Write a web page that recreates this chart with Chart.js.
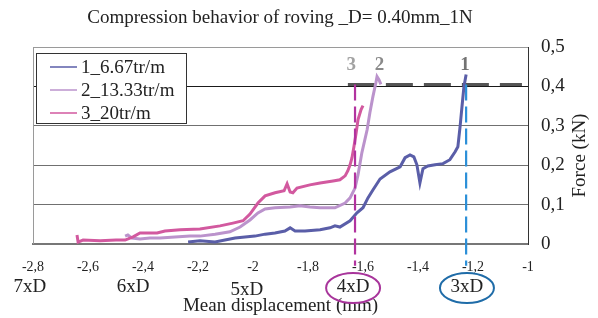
<!DOCTYPE html>
<html><head><meta charset="utf-8">
<script src="https://cdn.jsdelivr.net/npm/chart.js@4.4.1/dist/chart.umd.min.js"></script>
<style>html,body{margin:0;padding:0;background:#fff;}#wrap{width:598px;height:318px;}</style>
</head><body><div id="wrap"><canvas id="c" width="598" height="318"></canvas></div>
<script>
// ---------- data ----------
const seriesNames = ['1_6.67tr/m', '2_13.33tr/m', '3_20tr/m'];

const s1X = [-2.236,-2.193,-2.138,-2.102,-2.065,-2.029,-1.993,-1.956,-1.920,-1.884,-1.865,-1.847,-1.811,-1.756,-1.720,-1.702,-1.684,-1.647,-1.622,-1.600,-1.582,-1.564,-1.538,-1.502,-1.465,-1.447,-1.429,-1.415,-1.404,-1.393,-1.382,-1.364,-1.338,-1.309,-1.284,-1.265,-1.255,-1.247,-1.240,-1.233,-1.225];
const s1Y = [0.005,0.008,0.005,0.010,0.015,0.018,0.020,0.025,0.028,0.033,0.041,0.033,0.033,0.036,0.041,0.046,0.043,0.059,0.079,0.092,0.117,0.137,0.165,0.183,0.196,0.219,0.226,0.221,0.201,0.155,0.191,0.198,0.201,0.204,0.214,0.234,0.247,0.298,0.349,0.399,0.430];

const s2X = [-2.465,-2.455,-2.440,-2.411,-2.375,-2.338,-2.284,-2.229,-2.193,-2.138,-2.084,-2.047,-2.011,-1.982,-1.956,-1.920,-1.865,-1.829,-1.793,-1.756,-1.702,-1.665,-1.647,-1.629,-1.618,-1.604,-1.585,-1.575,-1.564,-1.553,-1.549,-1.542,-1.535];
const s2Y = [0.020,0.023,0.015,0.013,0.015,0.015,0.018,0.020,0.020,0.025,0.031,0.043,0.061,0.079,0.089,0.092,0.094,0.097,0.094,0.092,0.092,0.104,0.117,0.142,0.176,0.232,0.290,0.333,0.374,0.410,0.425,0.417,0.405];

const s3X = [-2.640,-2.636,-2.618,-2.556,-2.498,-2.465,-2.436,-2.411,-2.375,-2.349,-2.320,-2.265,-2.193,-2.120,-2.073,-2.036,-2.011,-1.982,-1.956,-1.920,-1.887,-1.876,-1.865,-1.855,-1.840,-1.793,-1.756,-1.709,-1.684,-1.665,-1.655,-1.647,-1.640,-1.633,-1.625,-1.618,-1.607,-1.600];
const s3Y = [0.023,0.005,0.010,0.008,0.010,0.010,0.018,0.028,0.028,0.028,0.033,0.036,0.038,0.046,0.053,0.059,0.076,0.104,0.122,0.130,0.135,0.153,0.132,0.130,0.142,0.150,0.155,0.160,0.163,0.173,0.186,0.201,0.219,0.247,0.282,0.316,0.341,0.351];

const xTicks = [-2.8,-2.6,-2.4,-2.2,-2.0,-1.8,-1.6,-1.4,-1.2,-1.0];
const yTicks = [0,0.1,0.2,0.3,0.4,0.5];

const refLevel = 0.405;            // dashed maximum force level
const refLineX = [-1.655, -1.022];  // extent of the dashed level
const vLine3X = -1.629;             // vertical marker for series 3
const vLine1X = -1.225;             // vertical marker for series 1
const vLineY = [0.405, -0.055];

const peakLabels = ['3', '2', '1'];
const peakLabelX = [-1.643, -1.540, -1.229];
const peakLabelY = 0.455;

const dLabels = ['7xD', '6xD', '5xD', '4xD', '3xD'];
const dLabelX = [-2.811, -2.436, -2.022, -1.636, -1.222];

// ---------- styles ----------
const FONT = '"Liberation Serif", "Times New Roman", serif';
const colors = ['#5a5ea8', '#bb93cc', '#d2599f'];
const toXY = (xs, ys) => xs.map((v, i) => ({x: v, y: ys[i]}));
const fmt = v => (Math.round(v * 10) / 10).toString().replace('.', ',');

const series = [[s1X, s1Y], [s2X, s2Y], [s3X, s3Y]];
const datasets = series.map((s, i) => ({
  label: seriesNames[i], data: toXY(s[0], s[1]), showLine: true,
  borderColor: colors[i], backgroundColor: colors[i], borderWidth: 3,
  pointRadius: 0, tension: 0, order: 3 - i
}));
datasets.push({label: 'level', data: refLineX.map(v => ({x: v, y: refLevel})), showLine: true,
  borderColor: '#555', borderWidth: 3, borderDash: [27, 11], pointRadius: 0, order: 5});
datasets.push({label: 'v3', data: vLineY.map(v => ({x: vLine3X, y: v})), showLine: true, clip: false,
  borderColor: '#b2339f', borderWidth: 2.2, borderDash: [16, 6], pointRadius: 0, order: 0});
datasets.push({label: 'v1', data: vLineY.map(v => ({x: vLine1X, y: v})), showLine: true, clip: false,
  borderColor: '#2b8fd8', borderWidth: 2.2, borderDash: [16, 6], pointRadius: 0, order: 0});

const extras = {
  id: 'extras',
  afterDatasetsDraw(chart) {
    const {ctx, chartArea: a, scales: {x, y}} = chart;
    ctx.save();
    // left border
    ctx.strokeStyle = '#9a9a9a'; ctx.lineWidth = 1;
    ctx.beginPath(); ctx.moveTo(a.left + 0.5, a.top); ctx.lineTo(a.left + 0.5, a.bottom); ctx.stroke();

    // legend
    const lx = 36.5, ly = 53.5, lw = 150, lh = 70;
    ctx.fillStyle = '#fff'; ctx.fillRect(lx, ly, lw, lh);
    ctx.strokeStyle = '#333'; ctx.lineWidth = 1; ctx.strokeRect(lx, ly, lw, lh);
    ctx.font = '19px ' + FONT; ctx.textAlign = 'left'; ctx.textBaseline = 'middle';
    seriesNames.forEach((n, i) => {
      const ry = 67 + i * 23;
      ctx.strokeStyle = colors[i]; ctx.lineWidth = 1.5;
      ctx.beginPath(); ctx.moveTo(50, ry); ctx.lineTo(77, ry); ctx.stroke();
      ctx.fillStyle = '#222'; ctx.fillText(n, 81, ry + 1);
    });

    // peak labels
    ctx.font = 'bold 19px ' + FONT; ctx.textAlign = 'center';
    const pc = ['#a2a2a2', '#8a8a8a', '#737373'];
    peakLabels.forEach((t, i) => {
      ctx.fillStyle = pc[i];
      ctx.fillText(t, x.getPixelForValue(peakLabelX[i]), y.getPixelForValue(peakLabelY));
    });

    // nxD labels
    ctx.font = '19px ' + FONT; ctx.fillStyle = '#222';
    const dy = [43, 43, 46, 43, 43];
    dLabels.forEach((t, i) => {
      ctx.fillText(t, x.getPixelForValue(dLabelX[i]), a.bottom + dy[i]);
    });
    // ellipses
    const ec = [null, null, null, '#a8359b', '#1f6ca8'];
    [3, 4].forEach(i => {
      ctx.strokeStyle = ec[i]; ctx.lineWidth = 2;
      ctx.beginPath();
      ctx.ellipse(x.getPixelForValue(dLabelX[i]), a.bottom + dy[i] + 1, 27, 15, 0, 0, Math.PI * 2);
      ctx.stroke();
    });

    // chart title
    ctx.fillStyle = '#222'; ctx.font = '19px ' + FONT;
    ctx.fillText('Compression behavior of roving _D= 0.40mm_1N', 280, 18);

    // y axis title (bottom-to-top)
    ctx.translate(580, (a.top + a.bottom) / 2 + 10);
    ctx.rotate(-Math.PI / 2);
    ctx.fillText('Force (kN)', 0, 0);
    ctx.restore();
  }
};

new Chart(document.getElementById('c'), {
  type: 'scatter',
  data: {datasets},
  plugins: [extras],
  options: {
    responsive: false, animation: false, devicePixelRatio: 1,
    layout: {padding: {left: 33, top: 47, right: 0, bottom: 0}},
    plugins: {legend: {display: false}, tooltip: {enabled: false}, title: {display: false}},
    scales: {
      x: {
        type: 'linear', min: -2.8, max: -1,
        afterFit(s) { s.height = 74; },
        afterBuildTicks(s) { s.ticks = xTicks.map(v => ({value: v})); },
        ticks: {font: {family: FONT, size: 14}, color: '#222', padding: 15, maxRotation: 0, autoSkip: false, callback: v => fmt(v)},
        grid: {display: false, drawTicks: false},
        border: {display: true, color: '#777', width: 2},
        title: {display: true, text: 'Mean displacement (mm)', font: {family: FONT, size: 19}, color: '#222', padding: {top: 0, bottom: 1}}
      },
      y: {
        position: 'right', min: 0, max: 0.5,
        afterFit(s) { s.width = 70; },
        afterBuildTicks(s) { s.ticks = yTicks.map(v => ({value: v})); },
        ticks: {font: {family: FONT, size: 19}, color: '#222', padding: 13, callback: v => fmt(v)},
        grid: {drawTicks: false, color: c => c.tick.value === 0.4 ? '#1a1a1a' : (c.tick.value === 0.5 ? '#9a9a9a' : '#707070'), lineWidth: 1},
        border: {display: true, color: '#333', width: 1}
      }
    }
  }
});
</script>
</body></html>
